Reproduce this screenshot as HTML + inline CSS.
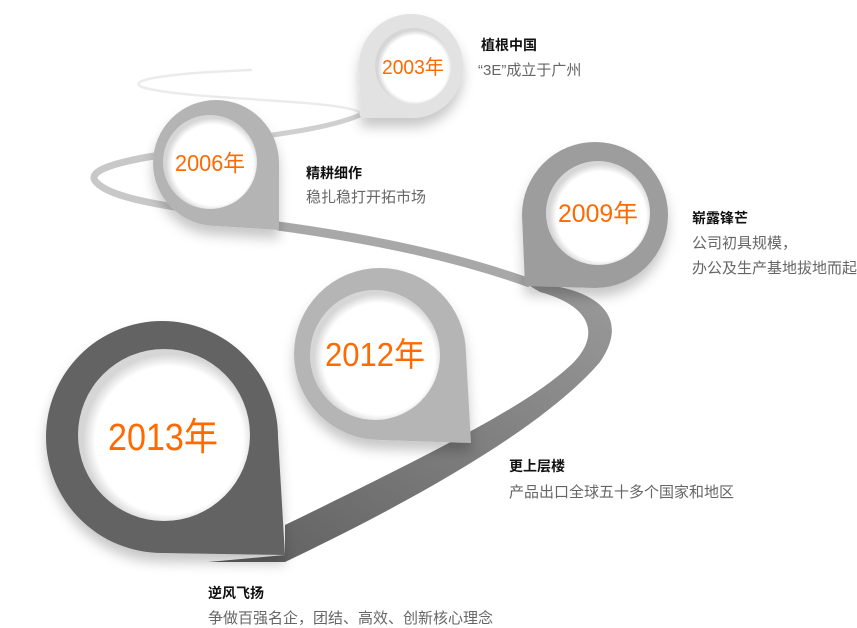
<!DOCTYPE html>
<html><head><meta charset="utf-8"><style>
html,body{margin:0;padding:0;background:#fff;}
svg{display:block;}
.t{font-family:"Liberation Sans","Noto Sans CJK SC",sans-serif;}
</style></head><body>
<svg width="857" height="628" viewBox="0 0 857 628" xmlns="http://www.w3.org/2000/svg">
<defs>
<filter id="sh" x="-30%" y="-30%" width="160%" height="170%">
<feDropShadow dx="0" dy="9" stdDeviation="6" flood-color="#000" flood-opacity="0.22"/>
</filter>
<radialGradient id="ig" cx="0.53" cy="0.53" r="0.5">
<stop offset="0.86" stop-color="#fff"/>
<stop offset="1" stop-color="#d6d6d6"/>
</radialGradient>
<linearGradient id="rd" x1="0" y1="1" x2="1" y2="0">
<stop offset="0" stop-color="#5e5e5e"/>
<stop offset="1" stop-color="#9a9a9a"/>
</linearGradient>
</defs>

<path d="M252,70 C170,73 120,80 145,88 C190,100 350,100 360,113" fill="none" stroke="#ebebeb" stroke-width="2.5"/>
<path d="M360,115 C330,128 280,134 230,141" fill="none" stroke="#cfcfcf" stroke-width="5"/>
<path d="M160,155 C110,163 85,172 97,183 C110,196 150,203 175,207" fill="none" stroke="#c8c8c8" stroke-width="7"/>
<path d="M278,226 C380,240 460,258 530,283" fill="none" stroke="#a8a8a8" stroke-width="9"/>
<path d="M208,562 L285,562 C400,507 540,432 600,362 C625,326 610,298 560,287 L525,283 L540,292 C588,305 602,332 574,362 C535,400 460,440 285,525 L285,555 Z" fill="url(#rd)"/>

<g filter="url(#sh)">
<path d="M411,118 A52,52 0 1 1 463,66 L463,70 A52,52 0 0 1 411,118 Z" fill="#e2e2e2"/>
<path d="M359,66 A52,52 0 1 1 411,118 L361,118 Z" fill="#e2e2e2"/>
</g>
<circle cx="413" cy="66" r="38" fill="url(#ig)"/>

<g filter="url(#sh)">
<path d="M216,226 A63,63 0 1 1 279,163 L279,230 Z" fill="#b4b4b4"/>
</g>
<circle cx="210" cy="162" r="47" fill="url(#ig)"/>

<g filter="url(#sh)">
<path d="M522,215 A73,73 0 1 1 595,288 L525,286 Z" fill="#9d9d9d"/>
</g>
<circle cx="598" cy="213" r="52" fill="url(#ig)"/>

<g filter="url(#sh)">
<path d="M380,440 A86,86 0 1 1 466,354 L471,443 Z" fill="#b5b5b5"/>
</g>
<circle cx="375" cy="355" r="65" fill="url(#ig)"/>

<g filter="url(#sh)">
<path d="M162,553 A116,116 0 1 1 278,437 L285,555 Z" fill="#636363"/>
</g>
<circle cx="164" cy="435" r="86" fill="url(#ig)"/>

<g class="t" fill="#ff6a00" text-anchor="middle">
<text x="413" y="74" font-size="20" textLength="62" lengthAdjust="spacingAndGlyphs">2003年</text>
<text x="210" y="171" font-size="23" textLength="70" lengthAdjust="spacingAndGlyphs">2006年</text>
<text x="598" y="222" font-size="25" textLength="80" lengthAdjust="spacingAndGlyphs">2009年</text>
<text x="375" y="366" font-size="33" textLength="100" lengthAdjust="spacingAndGlyphs">2012年</text>
<text x="163" y="450" font-size="38" textLength="110" lengthAdjust="spacingAndGlyphs">2013年</text>
</g>

<g class="t" font-size="15">
<text x="481" y="50" font-weight="bold" fill="#111" font-size="14">植根中国</text>
<text x="478" y="75" fill="#666">“3E”成立于广州</text>
<text x="306" y="178" font-weight="bold" fill="#111" font-size="14">精耕细作</text>
<text x="306" y="202" fill="#666">稳扎稳打开拓市场</text>
<text x="692" y="223" font-weight="bold" fill="#111" font-size="14">崭露锋芒</text>
<text x="692" y="248" fill="#666">公司初具规模，</text>
<text x="692" y="273" fill="#666">办公及生产基地拔地而起</text>
<text x="509" y="471" font-weight="bold" fill="#111" font-size="14">更上层楼</text>
<text x="509" y="497" fill="#666">产品出口全球五十多个国家和地区</text>
<text x="208" y="598" font-weight="bold" fill="#111" font-size="14">逆风飞扬</text>
<text x="208" y="623" fill="#666">争做百强名企，团结、高效、创新核心理念</text>
</g>
</svg>
</body></html>
